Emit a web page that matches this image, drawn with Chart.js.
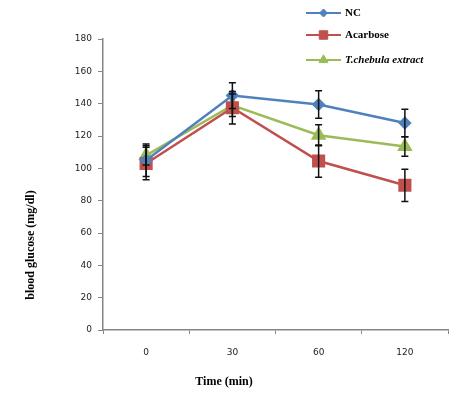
<!DOCTYPE html>
<html>
<head>
<meta charset="utf-8">
<script src="https://cdn.jsdelivr.net/npm/chart.js@4.4.0/dist/chart.umd.min.js"></script>
<style>
html, body { margin: 0; padding: 0; background: #fff; }
</style>
</head>
<body>
<canvas id="myChart" width="461" height="399"></canvas>
<script>
var categories = ['0', '30', '60', '120'];
var seriesNames = ['NC', 'Acarbose', 'T.chebula extract'];
var ncValues = [105, 145, 139.5, 128];
var ncErrors = [10, 8, 8.5, 8.5];
var acarboseValues = [103, 137.5, 104.5, 89.5];
var acarboseErrors = [10, 10, 10, 10];
var chebulaValues = [108, 139, 120.5, 113.5];
var chebulaErrors = [6, 7, 6.5, 6];
var yMin = 0, yMax = 180, yStep = 20;
var xTitle = 'Time (min)';
var yTitle = 'blood glucose (mg/dl)';

var axisGrey = '#868686';

// error bars drawn from the y scale
var errorBars = {
    id: 'errorBars',
    afterDatasetsDraw: function(chart) {
        var ctx = chart.ctx, y = chart.scales.y;
        chart.data.datasets.forEach(function(ds, i) {
            var meta = chart.getDatasetMeta(i);
            meta.data.forEach(function(pt, j) {
                var top = y.getPixelForValue(ds.data[j] + ds.errors[j]);
                var bot = y.getPixelForValue(ds.data[j] - ds.errors[j]);
                ctx.save();
                ctx.strokeStyle = '#111';
                ctx.lineWidth = 1.5;
                ctx.beginPath();
                ctx.moveTo(pt.x, top); ctx.lineTo(pt.x, bot);
                ctx.moveTo(pt.x - 3.5, top); ctx.lineTo(pt.x + 3.5, top);
                ctx.moveTo(pt.x - 3.5, bot); ctx.lineTo(pt.x + 3.5, bot);
                ctx.stroke();
                ctx.restore();
            });
        });
    }
};

// axis titles and the legend, placed like the original
var extras = {
    id: 'extras',
    afterDraw: function(chart) {
        var ctx = chart.ctx;
        ctx.save();
        ctx.fillStyle = '#000';
        ctx.font = 'bold 12px "Liberation Serif"';
        ctx.textAlign = 'center';
        ctx.textBaseline = 'middle';
        ctx.fillText(xTitle, 224, 382);
        ctx.translate(31, 245);
        ctx.rotate(-Math.PI / 2);
        ctx.fillText(yTitle, 0, 0);
        ctx.restore();

        var rows = [13, 35, 60];
        chart.data.datasets.forEach(function(ds, i) {
            var ly = rows[i];
            ctx.save();
            ctx.strokeStyle = ds.borderColor;
            ctx.lineWidth = 2;
            ctx.beginPath();
            ctx.moveTo(306, ly); ctx.lineTo(341, ly);
            ctx.stroke();
            ctx.fillStyle = ds.backgroundColor;
            ctx.strokeStyle = ds.borderColor;
            ctx.lineWidth = 1;
            Chart.helpers.drawPoint(ctx, {
                pointStyle: ds.pointStyle,
                radius: ds.pointRadius * 0.8,
                borderWidth: 1,
                rotation: 0
            }, 323.5, ly);
            ctx.fillStyle = '#000';
            ctx.font = (i === 2 ? 'italic ' : '') + 'bold 11px "Liberation Serif"';
            ctx.textAlign = 'left';
            ctx.textBaseline = 'middle';
            ctx.fillText(ds.label, 345, ly);
            ctx.restore();
        });
    }
};

var ctx = document.getElementById('myChart').getContext('2d');
var myChart = new Chart(ctx, {
    type: 'line',
    data: {
        labels: categories,
        datasets: [{
            label: seriesNames[0],
            data: ncValues,
            errors: ncErrors,
            borderColor: '#4F81BD',
            backgroundColor: '#4F81BD',
            borderWidth: 2.5,
            pointStyle: 'rectRot',
            pointRadius: 5
        }, {
            label: seriesNames[1],
            data: acarboseValues,
            errors: acarboseErrors,
            borderColor: '#C0504D',
            backgroundColor: '#C0504D',
            borderWidth: 2.5,
            pointStyle: 'rect',
            pointRadius: 7.5
        }, {
            label: seriesNames[2],
            data: chebulaValues,
            errors: chebulaErrors,
            borderColor: '#9BBB59',
            backgroundColor: '#9BBB59',
            borderWidth: 2.5,
            pointStyle: 'triangle',
            pointRadius: 6.5
        }]
    },
    options: {
        responsive: false,
        animation: false,
        devicePixelRatio: 1,
        layout: { padding: { left: 68, right: 13, top: 39, bottom: 39 } },
        plugins: {
            legend: { display: false },
            tooltip: { enabled: false }
        },
        scales: {
            x: {
                offset: true,
                grid: { offset: true, drawOnChartArea: false, tickLength: 4, color: axisGrey },
                border: { color: axisGrey, width: 1.5 },
                ticks: { color: '#222', font: { family: 'DejaVu Sans', size: 9 }, padding: 13 },
                afterFit: function(scale) { scale.height = 30; }
            },
            y: {
                min: yMin,
                max: yMax,
                ticks: { stepSize: yStep, color: '#222', font: { family: 'DejaVu Sans', size: 9 }, padding: 6 },
                grid: { drawOnChartArea: false, tickLength: 5, color: axisGrey },
                border: { color: axisGrey, width: 1.5 },
                afterFit: function(scale) { scale.width = 35; }
            }
        }
    },
    plugins: [errorBars, extras]
});
</script>
</body>
</html>
